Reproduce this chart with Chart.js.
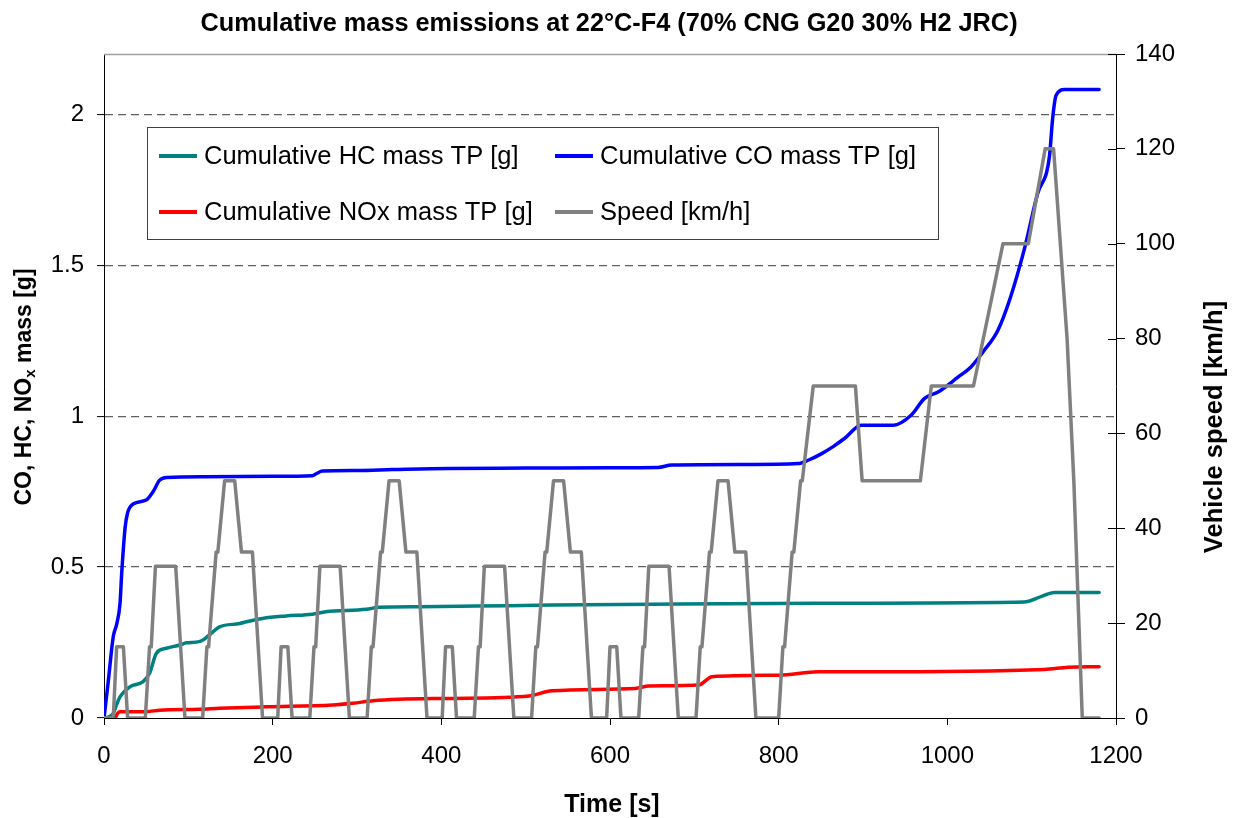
<!DOCTYPE html>
<html>
<head>
<meta charset="utf-8">
<script src="https://cdn.jsdelivr.net/npm/chart.js@4.4.1/dist/chart.umd.min.js"></script>
<style>
  html, body { margin: 0; padding: 0; background: #fff; }
  #wrap { width: 1234px; height: 818px; }
</style>
</head>
<body>
<div id="wrap"><canvas id="chart" width="1234" height="818"></canvas></div>
<script>
// Labels
const chartTitle = 'Cumulative mass emissions at 22°C-F4 (70% CNG G20 30% H2 JRC)';
const xTitle = 'Time [s]';
const y2Title = 'Vehicle speed [km/h]';
const yTitleParts = ['CO, HC, NO', 'x', ' mass [g]'];

// Axis ticks
const timeTicks = [0, 200, 400, 600, 800, 1000, 1200];
const massTicks = [0, 0.5, 1, 1.5, 2];
const speedTicks = [0, 20, 40, 60, 80, 100, 120, 140];

// Cumulative HC [g]
const hcTime = [0, 5, 11, 15, 19, 31, 46, 54, 62, 74, 90, 98, 113, 125, 137, 161, 169, 188, 216, 247, 263, 311, 326, 374, 441, 531, 650, 847, 1091, 1111, 1127, 1180];
const hcMass = [0, 0.003, 0.015, 0.045, 0.07, 0.104, 0.12, 0.148, 0.214, 0.231, 0.242, 0.249, 0.253, 0.275, 0.302, 0.313, 0.319, 0.33, 0.338, 0.344, 0.352, 0.36, 0.367, 0.369, 0.371, 0.374, 0.377, 0.38, 0.384, 0.402, 0.416, 0.416];

// Cumulative CO [g]
const coTime = [0, 5, 11, 15, 19, 21, 25, 28, 35, 50, 58, 66, 74, 120, 200, 247, 252, 259, 300, 342, 409, 500, 600, 657, 673, 760, 823, 835, 851, 865, 878, 898, 936, 957, 973, 989, 1013, 1028, 1044, 1060, 1075, 1091, 1107, 1121, 1125, 1129, 1139, 1180];
const coMass = [0, 0.12, 0.27, 0.31, 0.38, 0.48, 0.63, 0.68, 0.71, 0.722, 0.749, 0.788, 0.797, 0.799, 0.801, 0.803, 0.81, 0.818, 0.82, 0.823, 0.827, 0.828, 0.829, 0.83, 0.838, 0.84, 0.843, 0.854, 0.876, 0.9, 0.926, 0.97, 0.97, 1.003, 1.059, 1.08, 1.13, 1.163, 1.219, 1.285, 1.395, 1.55, 1.737, 1.859, 1.99, 2.063, 2.082, 2.082];

// Cumulative NOx [g]
const noxTime = [0, 13, 16, 19, 50, 66, 113, 137, 192, 271, 295, 319, 350, 409, 504, 531, 630, 646, 705, 721, 800, 847, 898, 1115, 1143, 1180];
const noxMass = [0, 0, 0.015, 0.021, 0.021, 0.026, 0.029, 0.032, 0.037, 0.043, 0.049, 0.057, 0.062, 0.065, 0.073, 0.09, 0.098, 0.106, 0.109, 0.137, 0.142, 0.153, 0.153, 0.161, 0.168, 0.17];

// Vehicle speed [km/h]
const speedTime = [
  0, 11, 15, 23, 28, 49, 54, 56, 61, 85, 96, 117, 122, 124, 133, 135, 143, 155, 163, 176, 188,
  195, 206, 210, 218, 223, 244, 249, 251, 256, 280, 291, 312, 317, 319, 328, 330, 338, 350, 358, 371, 383,
  390, 401, 405, 413, 418, 439, 444, 446, 451, 475, 486, 507, 512, 514, 523, 525, 533, 545, 553, 566, 578,
  585, 596, 600, 608, 613, 634, 639, 641, 646, 670, 681, 702, 707, 709, 718, 720, 728, 740, 748, 761, 773,
  780, 800, 805, 807, 816, 818, 826, 828, 841, 891, 899, 968, 981, 1031, 1066, 1096, 1116, 1126, 1142, 1150, 1160, 1180
];
const speedKmh = [
  0, 0, 15, 15, 0, 0, 15, 15, 32, 32, 0, 0, 15, 15, 35, 35, 50, 50, 35, 35, 0,
  0, 0, 15, 15, 0, 0, 15, 15, 32, 32, 0, 0, 15, 15, 35, 35, 50, 50, 35, 35, 0,
  0, 0, 15, 15, 0, 0, 15, 15, 32, 32, 0, 0, 15, 15, 35, 35, 50, 50, 35, 35, 0,
  0, 0, 15, 15, 0, 0, 15, 15, 32, 32, 0, 0, 15, 15, 35, 35, 50, 50, 35, 35, 0,
  0, 0, 15, 15, 35, 35, 50, 50, 70, 70, 50, 50, 70, 70, 100, 100, 120, 120, 80, 50, 0, 0
];

const FONT = '"Liberation Sans", Arial, sans-serif';
const pts = (xs, ys) => xs.map((x, i) => ({ x: x, y: ys[i] }));

// legend slots: HC, CO, NOx, Speed
const legendBox = { left: 147, top: 127, width: 791, height: 112 };
const legendSlots = [[159, 156], [555, 156], [159, 212], [555, 212]];

const decor = {
  id: 'decor',
  afterDraw(chart) {
    const { ctx, chartArea: a, scales } = chart;
    ctx.save();

    // thin top frame
    ctx.strokeStyle = '#a0a0a0';
    ctx.lineWidth = 1.5;
    ctx.beginPath();
    ctx.moveTo(a.left, a.top + 0.5);
    ctx.lineTo(a.right, a.top + 0.5);
    ctx.stroke();

    // right axis ticks cross the axis
    ctx.strokeStyle = '#000';
    ctx.lineWidth = 1;
    scales.y2.ticks.forEach(t => {
      const y = Math.round(scales.y2.getPixelForValue(t.value)) + 0.5;
      ctx.beginPath();
      ctx.moveTo(a.right - 8, y);
      ctx.lineTo(a.right, y);
      ctx.stroke();
    });

    // titles
    ctx.fillStyle = '#000';
    ctx.textAlign = 'center';
    ctx.textBaseline = 'middle';
    ctx.font = 'bold 25.3px ' + FONT;
    ctx.fillText(chartTitle, (a.left + a.right) / 2 - 1, 24);
    ctx.font = 'bold 25px ' + FONT;
    ctx.fillText(xTitle, (a.left + a.right) / 2 + 2, 805);

    ctx.save();
    ctx.translate(1215, 427);
    ctx.rotate(-Math.PI / 2);
    ctx.font = 'bold 25.5px ' + FONT;
    ctx.fillText(y2Title, 0, 0);
    ctx.restore();

    // left title with subscript x
    const fonts = ['bold 23px ' + FONT, 'bold 15px ' + FONT, 'bold 23px ' + FONT];
    const widths = yTitleParts.map((p, i) => { ctx.font = fonts[i]; return ctx.measureText(p).width; });
    const total = widths.reduce((s, w) => s + w, 0);
    ctx.save();
    ctx.translate(25, 387);
    ctx.rotate(-Math.PI / 2);
    ctx.textAlign = 'left';
    let px = -total / 2;
    yTitleParts.forEach((p, i) => {
      ctx.font = fonts[i];
      ctx.fillText(p, px, i === 1 ? 6 : 0);
      px += widths[i];
    });
    ctx.restore();

    // legend
    ctx.fillStyle = '#fff';
    ctx.fillRect(legendBox.left, legendBox.top, legendBox.width, legendBox.height);
    ctx.strokeStyle = '#404040';
    ctx.lineWidth = 1;
    ctx.strokeRect(legendBox.left + 0.5, legendBox.top + 0.5, legendBox.width, legendBox.height);
    ctx.font = '25.5px ' + FONT;
    ctx.textAlign = 'left';
    chart.data.datasets.forEach((ds, i) => {
      const [lx, ly] = legendSlots[i];
      ctx.strokeStyle = ds.borderColor;
      ctx.lineWidth = 4;
      ctx.beginPath();
      ctx.moveTo(lx, ly);
      ctx.lineTo(lx + 38, ly);
      ctx.stroke();
      ctx.fillStyle = '#000';
      ctx.fillText(ds.label, lx + 45, ly + 1);
    });

    ctx.restore();
  }
};

new Chart(document.getElementById('chart'), {
  type: 'line',
  data: {
    datasets: [
      { label: 'Cumulative HC mass TP [g]', data: pts(hcTime, hcMass), borderColor: '#008080', yAxisID: 'y', order: 1, cubicInterpolationMode: 'monotone' },
      { label: 'Cumulative CO mass TP [g]', data: pts(coTime, coMass), borderColor: '#0000ff', yAxisID: 'y', order: 1, cubicInterpolationMode: 'monotone' },
      { label: 'Cumulative NOx mass TP [g]', data: pts(noxTime, noxMass), borderColor: '#ff0000', yAxisID: 'y', order: 1, cubicInterpolationMode: 'monotone' },
      { label: 'Speed [km/h]', data: pts(speedTime, speedKmh), borderColor: '#808080', yAxisID: 'y2', order: 0, tension: 0 }
    ]
  },
  options: {
    responsive: false,
    animation: false,
    devicePixelRatio: 1,
    layout: { padding: { top: 54, left: 0, right: 0, bottom: 0 } },
    elements: {
      point: { radius: 0 },
      line: { borderWidth: 3.5, borderJoinStyle: 'round', borderCapStyle: 'round' }
    },
    plugins: {
      legend: { display: false },
      tooltip: { enabled: false },
      title: { display: false }
    },
    scales: {
      x: {
        type: 'linear',
        min: 0, max: 1200,
        afterBuildTicks: s => { s.ticks = timeTicks.map(v => ({ value: v })); },
        afterFit: s => { s.height = 100; },
        ticks: { color: '#000', font: { family: FONT, size: 24 }, padding: 17, maxRotation: 0, callback: v => String(v) },
        grid: { drawOnChartArea: false, drawTicks: true, tickLength: 7, tickColor: '#000', tickWidth: 1 },
        border: { color: '#000', width: 1 }
      },
      y: {
        position: 'left',
        min: 0, max: 2.2,
        afterBuildTicks: s => { s.ticks = massTicks.map(v => ({ value: v })); },
        afterFit: s => { s.width = 104; },
        ticks: { color: '#000', font: { family: FONT, size: 24 }, padding: 13, callback: v => String(v) },
        grid: {
          color: c => (c.tick && c.tick.value === 0) ? 'rgba(0,0,0,0)' : '#606060',
          lineWidth: 1.2,
          drawTicks: true, tickLength: 7, tickColor: '#000', tickWidth: 1
        },
        border: { color: '#000', width: 1, dash: [8, 5] }
      },
      y2: {
        position: 'right',
        min: 0, max: 140,
        afterBuildTicks: s => { s.ticks = speedTicks.map(v => ({ value: v })); },
        afterFit: s => { s.width = 118; },
        ticks: { color: '#000', font: { family: FONT, size: 24 }, padding: 10, callback: v => String(v) },
        grid: { drawOnChartArea: false, drawTicks: true, tickLength: 9, tickColor: '#000', tickWidth: 1 },
        border: { color: '#000', width: 1 }
      }
    }
  },
  plugins: [decor]
});
</script>
</body>
</html>
